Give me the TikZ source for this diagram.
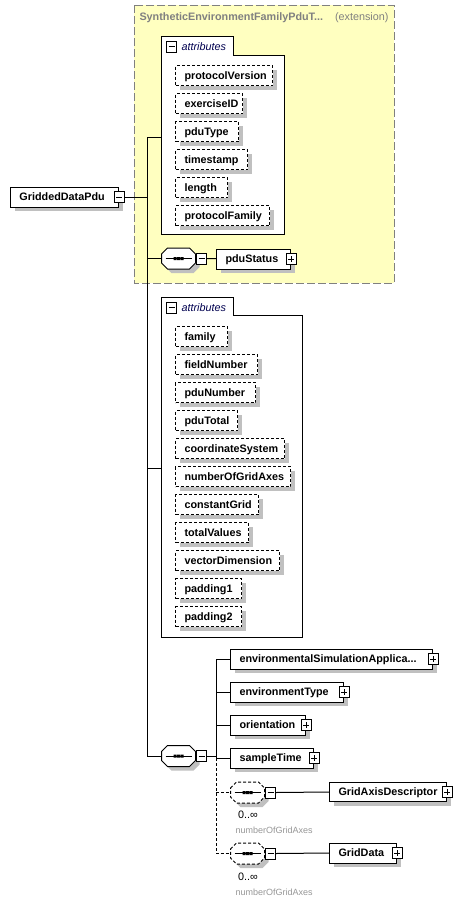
\documentclass[tikz,border=0pt]{standalone}
\usepackage{fontspec}
\setmainfont{Liberation Sans}
\usetikzlibrary{positioning,shadows}
\definecolor{extfill}{RGB}{255,255,192}
\definecolor{extline}{RGB}{128,128,128}
\definecolor{shadowgray}{RGB}{192,192,192}
\definecolor{attrtext}{RGB}{0,0,80}
\definecolor{notegray}{RGB}{150,150,150}
\newcommand{\namebox}[2]{\makebox[#1pt][l]{#2}}
\tikzset{
    boxshadow/.style={drop shadow={shadow xshift=4pt, shadow yshift=-4pt, fill=shadowgray, opacity=1}},
    element/.style={draw, fill=white, boxshadow, anchor=west, minimum height=20pt,
        inner xsep=9pt, inner ysep=0pt, text height=8pt, text depth=1pt,
        font=\fontsize{10.8}{12}\selectfont\bfseries},
    attribute/.style={element, dash pattern=on 3pt off 2pt, anchor=north west},
    pmbox/.style={draw, fill=white, minimum width=10pt, minimum height=11pt, inner sep=0pt},
    minusbox/.style={pmbox, path picture={
        \draw ([xshift=-3pt]path picture bounding box.center) -- ([xshift=3pt]path picture bounding box.center);}},
    plusbox/.style={pmbox, path picture={
        \draw ([xshift=-3pt]path picture bounding box.center) -- ([xshift=3pt]path picture bounding box.center)
              ([yshift=-3pt]path picture bounding box.center) -- ([yshift=3pt]path picture bounding box.center);}},
    seq/.style={minimum width=34pt, minimum height=21pt, inner sep=0pt, anchor=west},
    seqshape/.pic={
        \fill[shadowgray, shift={(4,4)}] (-17,-4.5) -- (-11,-10.5) -- (11,-10.5) -- (17,-4.5)
            -- (17,4.5) -- (11,10.5) -- (-11,10.5) -- (-17,4.5) -- cycle;
        \draw[fill=white] (-17,-4.5) -- (-11,-10.5) -- (11,-10.5) -- (17,-4.5)
            -- (17,4.5) -- (11,10.5) -- (-11,10.5) -- (-17,4.5) -- cycle;
        \draw[solid] (-13,0) -- (13,0);
        \fill (-5,-1.5) rectangle (-2,1.5) (-1.5,-1.5) rectangle (1.5,1.5) (2,-1.5) rectangle (5,1.5);
    },
    attrhead/.style={anchor=west, inner xsep=4pt, text=attrtext, font=\fontsize{10.8}{12}\selectfont\itshape},
    exttitle/.style={text=extline, inner sep=0pt, font=\fontsize{10.8}{12}\selectfont\bfseries},
    extnote/.style={text=extline, inner sep=0pt, font=\fontsize{10.8}{12}\selectfont},
    occurs/.style={inner sep=0pt, font=\fontsize{10.8}{12}\selectfont},
    occnote/.style={inner sep=0pt, anchor=west, text=notegray, font=\fontsize{9}{10}\selectfont},
}
\begin{document}
\begin{tikzpicture}[x=1pt, y=-1pt, line width=1pt]
\useasboundingbox (0,0) rectangle (472,906);

% base type
\draw[extline, fill=extfill, dash pattern=on 8pt off 3pt] (134,5) rectangle (394,283);
\node[exttitle, anchor=west] (extName) at (139,18) {SyntheticEnvironmentFamilyPduT...};
\node[extnote, anchor=east] (extKind) at (389,18) {(extension)};

\draw[fill=white] (161,36) -- (233,36) -- (233,55) -- (284,55) -- (284,234) -- (161,234) -- cycle;
\node[minusbox] (extAttrMinus) at (171.5,46.5) {};
\node[attrhead] (extAttrHead) at (extAttrMinus.east) {attributes};
\coordinate (extAttr) at (161,137);

\node[attribute] (protocolVersion) at (175,65) {\namebox{79}{protocolVersion}};
\node[attribute] (exerciseID) at (175,93) {\namebox{49}{exerciseID}};
\node[attribute] (pduType) at (175,121) {\namebox{45}{pduType}};
\node[attribute] (timestamp) at (175,149) {\namebox{54}{timestamp}};
\node[attribute] (length) at (175,177) {\namebox{34}{length}};
\node[attribute] (protocolFamily) at (175,205) {\namebox{76}{protocolFamily}};

\node[seq] (extSeq) at (161,258.5) {};
\pic at (extSeq.center) {seqshape};
\node[minusbox, anchor=west] (extSeqMinus) at (extSeq.east) {};
\node[element] (pduStatus) at (216,259) {\namebox{56}{pduStatus}};
\node[plusbox] (pduStatusPlus) at (pduStatus.east) {};
\draw (extSeqMinus) -- (pduStatus);

% root
\node[element] (gridded) at (10,197) {\namebox{90}{GriddedDataPdu}};
\node[minusbox] (griddedMinus) at (gridded.east) {};
\coordinate (spine) at (147,197);

% own attributes
\draw[fill=white] (161,297) -- (233,297) -- (233,315) -- (302,315) -- (302,637) -- (161,637) -- cycle;
\node[minusbox] (gdAttrMinus) at (171.5,307.5) {};
\node[attrhead] (gdAttrHead) at (gdAttrMinus.east) {attributes};
\coordinate (gdAttr) at (161,468);

\node[attribute] (family) at (175,326) {\namebox{34}{family}};
\node[attribute] (fieldNumber) at (175,354) {\namebox{64}{fieldNumber}};
\node[attribute] (pduNumber) at (175,382) {\namebox{62}{pduNumber}};
\node[attribute] (pduTotal) at (175,410) {\namebox{44}{pduTotal}};
\node[attribute] (coordinateSystem) at (175,438) {\namebox{91}{coordinateSystem}};
\node[attribute] (numberOfGridAxes) at (175,466) {\namebox{97}{numberOfGridAxes}};
\node[attribute] (constantGrid) at (175,494) {\namebox{65}{constantGrid}};
\node[attribute] (totalValues) at (175,522) {\namebox{55}{totalValues}};
\node[attribute] (vectorDimension) at (175,550) {\namebox{86}{vectorDimension}};
\node[attribute] (padding1) at (175,578) {\namebox{48}{padding1}};
\node[attribute] (padding2) at (175,606) {\namebox{48}{padding2}};

% content model
\node[seq] (gdSeq) at (161,756) {};
\pic at (gdSeq.center) {seqshape};
\node[minusbox, anchor=west] (gdSeqMinus) at (gdSeq.east) {};
\coordinate (fork) at (216,756);

\node[element] (envSimApp) at (230,659) {\namebox{184}{environmentalSimulationApplica...}};
\node[plusbox] (envSimAppPlus) at (envSimApp.east) {};
\node[element] (envType) at (230,692) {\namebox{95}{environmentType}};
\node[plusbox] (envTypePlus) at (envType.east) {};
\node[element] (orientation) at (230,725) {\namebox{57}{orientation}};
\node[plusbox] (orientationPlus) at (orientation.east) {};
\node[element] (sampleTime) at (230,758) {\namebox{65}{sampleTime}};
\node[plusbox] (sampleTimePlus) at (sampleTime.east) {};

\node[seq] (axisSeq) at (230,792.5) {};
\pic[dash pattern=on 3pt off 2pt] at (axisSeq.center) {seqshape};
\node[minusbox, anchor=west] (axisSeqMinus) at (axisSeq.east) {};
\node[occurs] (axisOcc) at (248,815) {0..∞};
\node[occnote] (axisNote) at (235,830) {numberOfGridAxes};
\node[element, minimum height=19pt] (axisDesc) at (329,792) {\namebox{99}{GridAxisDescriptor}};
\node[plusbox] (axisDescPlus) at (axisDesc.east) {};

\node[seq] (dataSeq) at (230,853.5) {};
\pic[dash pattern=on 3pt off 2pt] at (dataSeq.center) {seqshape};
\node[minusbox, anchor=west] (dataSeqMinus) at (dataSeq.east) {};
\node[occurs] (dataOcc) at (248,877) {0..∞};
\node[occnote] (dataNote) at (235,892) {numberOfGridAxes};
\node[element] (gridData) at (329,853) {\namebox{49}{GridData}};
\node[plusbox] (gridDataPlus) at (gridData.east) {};

% connectors
\draw (griddedMinus.east) -- (spine);
\draw (extAttr) -- (extAttr -| spine) -- (gdSeq.west -| spine) -- (gdSeq.west);
\draw (extSeq.west -| spine) -- (extSeq.west);
\draw (gdAttr -| spine) -- (gdAttr);
\draw (gdSeqMinus.east) -- (fork);
\draw (envSimApp.west) -- (envSimApp.west -| fork) -- (fork |- sampleTime.west) -- (sampleTime.west);
\draw (envType.west -| fork) -- (envType.west);
\draw (orientation.west -| fork) -- (orientation.west);
\draw[dash pattern=on 3pt off 2pt] (sampleTime.west -| fork) -- (fork |- dataSeq.west) -- (dataSeq.west);
\draw[dash pattern=on 3pt off 2pt] (axisSeq.west -| fork) -- (axisSeq.west);
\draw (axisSeqMinus.east) -- (axisDesc.west);
\draw (dataSeqMinus.east) -- (gridData.west);
\end{tikzpicture}
\end{document}
